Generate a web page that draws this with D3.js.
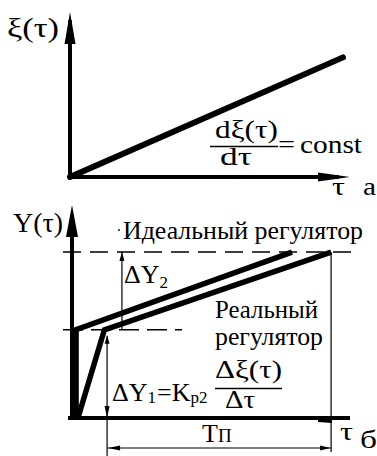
<!DOCTYPE html>
<html>
<head>
<meta charset="utf-8">
<script src="https://cdn.jsdelivr.net/npm/d3@7"></script>
<style>
  html, body { margin: 0; padding: 0; background: #fff; }
  svg { display: block; }
</style>
</head>
<body>
<svg id="chart" width="377" height="456"></svg>
<script>
// ---- (а) disturbance ξ(τ) growing at a constant rate ----
const xiTime  = [0, 9.75];
const xiValue = [0, 7.25];

// ---- (б) controller response Y(τ) ----
const idealTime = [0.15, 0.15, 8.15];
const idealY    = [0, 4.2, 7.9];
const realTime  = [0.22, 1.2, 9.6];
const realY     = [0, 4.2, 7.9];
const levelDY1  = 4.2;   // ΔY1 step of the ideal controller
const levelDY2  = 7.9;   // final level
const dimDY1Time = 1.3;  // where ΔY1 is measured
const dimDY2Time = 1.85; // where ΔY2 is measured
const tpStart = 1.3, tpEnd = 9.6; // T_П interval

const FONT = "'Liberation Serif'";
const svg = d3.select("#chart");

// scales
const xTop = d3.scaleLinear().domain([0, 10]).range([70, 350]);
const yTop = d3.scaleLinear().domain([0, 10]).range([177, 12]);
const xBot = d3.scaleLinear().domain([0, 10.3]).range([72, 350]);
const yBot = d3.scaleLinear().domain([0, 10.14]).range([418, 205]);

const line = (xs, ys) => d3.line().x(d => xs(d[0])).y(d => ys(d[1]));

function label(x, y, str, size, len) {
  const t = svg.append("text").attr("x", x).attr("y", y)
    .style("font-family", FONT).attr("fill", "#000")
    .attr("font-size", size).text(str);
  if (len) t.attr("textLength", len).attr("lengthAdjust", "spacingAndGlyphs");
  return t;
}
// text made of runs: [string, fontSize, dy, dx]
function richLabel(x, y, runs) {
  const t = svg.append("text").attr("x", x).attr("y", y)
    .style("font-family", FONT).attr("fill", "#000");
  runs.forEach(([s, size, dy, dx]) => {
    t.append("tspan").attr("font-size", size).attr("dy", dy || 0).attr("dx", dx || 0).text(s);
  });
  return t;
}
function poly(pts) {
  svg.append("polygon").attr("points", pts.map(p => p.join(",")).join(" ")).attr("fill", "#000");
}

// ---------- panel а ----------
// axes
svg.append("line").attr("x1", xTop(0)).attr("x2", xTop(0))
  .attr("y1", yTop(0) + 2).attr("y2", yTop(9.5)).attr("stroke", "#000").attr("stroke-width", 4);
poly([[xTop(0), yTop(10)], [xTop(0) - 5.5, yTop(10) + 32], [xTop(0) + 5.5, yTop(10) + 32]]);
svg.append("line").attr("x1", xTop(0) - 2).attr("x2", xTop(9.6))
  .attr("y1", yTop(0)).attr("y2", yTop(0)).attr("stroke", "#000").attr("stroke-width", 4);
poly([[xTop(10), yTop(0)], [xTop(10) - 32, yTop(0) - 4.5], [xTop(10) - 32, yTop(0) + 4.5]]);

// ξ(τ)
svg.append("path").datum(d3.zip(xiTime, xiValue))
  .attr("d", line(xTop, yTop)).attr("fill", "none")
  .attr("stroke", "#000").attr("stroke-width", 6).attr("stroke-linecap", "round");

label(7, 37, "ξ(τ)", 27, 52);
label(215, 138, "dξ(τ)", 26, 63);
svg.append("line").attr("x1", 210).attr("x2", 278).attr("y1", 146.5).attr("y2", 146.5)
  .attr("stroke", "#000").attr("stroke-width", 1.3);
label(220, 165, "dτ", 26, 32);
label(278, 153, "=", 26, 17);
label(300, 153, "const", 26, 62);
label(332, 195, "τ", 26, 13);
label(363, 195, "а", 26, 13);

// ---------- panel б ----------
// dashed levels
svg.append("line").attr("x1", 63).attr("x2", 353)
  .attr("y1", yBot(levelDY2)).attr("y2", yBot(levelDY2))
  .attr("stroke", "#000").attr("stroke-width", 1.4).attr("stroke-dasharray", "18,9");
svg.append("line").attr("x1", 63).attr("x2", 182)
  .attr("y1", yBot(levelDY1)).attr("y2", yBot(levelDY1))
  .attr("stroke", "#000").attr("stroke-width", 1.4).attr("stroke-dasharray", "20,8");

// axes
svg.append("line").attr("x1", xBot(0)).attr("x2", xBot(0))
  .attr("y1", yBot(0) + 2).attr("y2", yBot(9.6)).attr("stroke", "#000").attr("stroke-width", 4);
poly([[xBot(0), yBot(10.14)], [xBot(0) - 6, yBot(10.14) + 32], [xBot(0) + 6, yBot(10.14) + 32]]);
svg.append("line").attr("x1", 68).attr("x2", xBot(10.3))
  .attr("y1", yBot(0)).attr("y2", yBot(0)).attr("stroke", "#000").attr("stroke-width", 4);
poly([[318, yBot(0)], [332, yBot(0)], [332, yBot(0) + 5], [318, yBot(0) + 4]]);

// controllers
svg.append("path").datum(d3.zip(idealTime, idealY))
  .attr("d", line(xBot, yBot)).attr("fill", "none")
  .attr("stroke", "#000").attr("stroke-width", 5.5).attr("stroke-linejoin", "miter");
svg.append("path").datum(d3.zip(realTime, realY))
  .attr("d", line(xBot, yBot)).attr("fill", "none")
  .attr("stroke", "#000").attr("stroke-width", 5.5).attr("stroke-linejoin", "miter");

// dimension lines
function thinLine(x1, y1, x2, y2) {
  svg.append("line").attr("x1", x1).attr("y1", y1).attr("x2", x2).attr("y2", y2)
    .attr("stroke", "#000").attr("stroke-width", 1.2);
}
// ΔY2
thinLine(xBot(dimDY2Time), yBot(levelDY2), xBot(dimDY2Time), yBot(levelDY1));
poly([[xBot(dimDY2Time), yBot(levelDY2)], [xBot(dimDY2Time) - 2.5, yBot(levelDY2) + 9], [xBot(dimDY2Time) + 2.5, yBot(levelDY2) + 9]]);
// ΔY1
thinLine(xBot(dimDY1Time), yBot(levelDY1) + 6, xBot(dimDY1Time), 456);
poly([[xBot(dimDY1Time), yBot(levelDY1) + 6], [xBot(dimDY1Time) - 2.5, yBot(levelDY1) + 14], [xBot(dimDY1Time) + 2.5, yBot(levelDY1) + 14]]);
poly([[xBot(dimDY1Time), yBot(0)], [xBot(dimDY1Time) - 2.5, yBot(0) - 12], [xBot(dimDY1Time) + 2.5, yBot(0) - 12]]);
// T_П
thinLine(xBot(tpEnd), yBot(levelDY2), xBot(tpEnd), 452);
thinLine(xBot(tpStart), 448, xBot(tpEnd), 448);
poly([[xBot(tpStart) + 1, 448], [xBot(tpStart) + 13, 445.5], [xBot(tpStart) + 13, 450.5]]);
poly([[xBot(tpEnd) - 1, 448], [xBot(tpEnd) - 11, 445.5], [xBot(tpEnd) - 11, 450.5]]);

// labels
label(13, 232, "Y(τ)", 27, 50);
svg.append("circle").attr("cx", 119).attr("cy", 230).attr("r", 0.9).attr("fill", "#000");
label(123, 239, "Идеальный регулятор", 26, 240);
richLabel(124, 283, [["ΔY", 26], ["2", 17, 5]]);
label(215, 318, "Реальный", 26, 103);
label(215, 345, "регулятор", 26, 108);
richLabel(112, 401, [["ΔY", 26], ["1", 17, 2], ["=K", 26, -2, 1], ["р2", 17, 2]]);
label(215, 378, "Δξ(τ)", 26, 67);
svg.append("line").attr("x1", 215).attr("x2", 282).attr("y1", 388.5).attr("y2", 388.5)
  .attr("stroke", "#000").attr("stroke-width", 1.3);
label(225, 408, "Δτ", 26, 30);
richLabel(202, 442, [["T", 26], ["П", 19]]);
label(340, 440, "τ", 26, 13);
label(360, 448, "б", 26, 17);
</script>
</body>
</html>
